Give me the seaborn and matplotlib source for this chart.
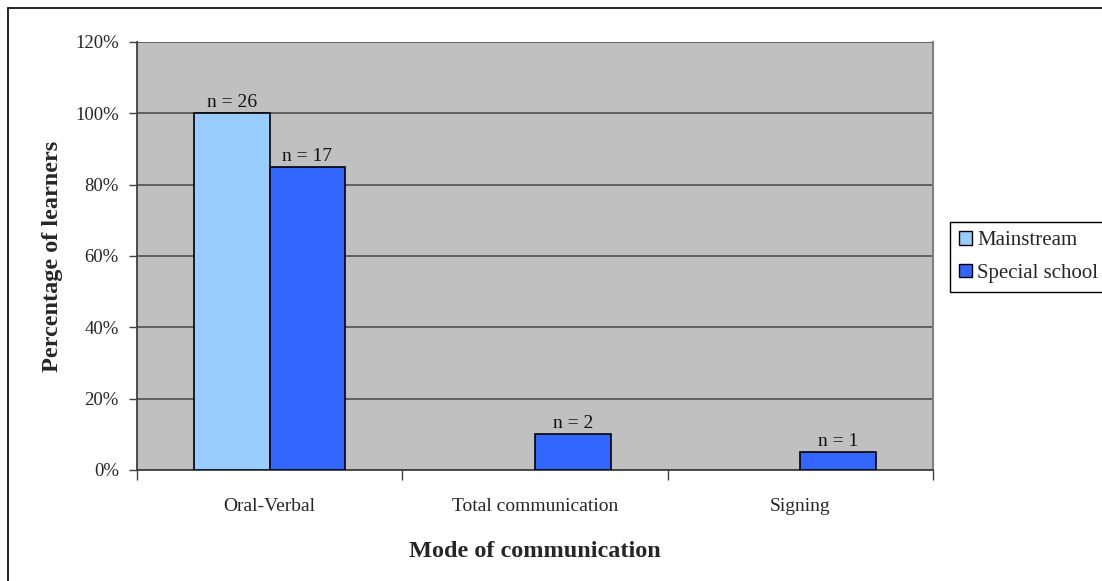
import matplotlib
matplotlib.use("Agg")
import matplotlib.pyplot as plt
from matplotlib.lines import Line2D
from matplotlib.ticker import FixedLocator, PercentFormatter
import seaborn as sns
import pandas as pd

# Survey results: share of learners per communication mode, by school type
modes = ["Oral-Verbal", "Total communication", "Signing"]
school_types = ["Mainstream", "Special school"]
mainstream_pct = [100, 0, 0]
special_pct = [85, 10, 5]
mainstream_n = [26, 0, 0]
special_n = [17, 2, 1]
y_ticks = [0, 20, 40, 60, 80, 100, 120]

colors = {"Mainstream": "#99CCFF", "Special school": "#3366FF"}

rows = []
for mode, pct, n in zip(modes, mainstream_pct, mainstream_n):
    rows.append({"mode": mode, "school": "Mainstream", "pct": pct, "n": n})
for mode, pct, n in zip(modes, special_pct, special_n):
    rows.append({"mode": mode, "school": "Special school", "pct": pct, "n": n})
df = pd.DataFrame(rows)
plot_df = df[df["n"] > 0]  # empty groups are not drawn

sns.set_style("white")
plt.rcParams["font.family"] = ["Liberation Serif", "DejaVu Serif"]

fig = plt.figure(figsize=(11.02, 5.81), dpi=100)
ax = fig.add_axes([137 / 1102, 1 - 470 / 581, (933 - 137) / 1102, (470 - 42) / 581])
ax.set_facecolor("#C0C0C0")

sns.barplot(data=plot_df, x="mode", y="pct", hue="school", order=modes,
            hue_order=school_types, palette=colors, width=0.57,
            edgecolor="black", linewidth=1.2, saturation=1, ax=ax,
            legend=False, zorder=3)

# value labels with group sizes
for container, school in zip(ax.containers, school_types):
    sub = plot_df[plot_df["school"] == school]
    ax.bar_label(container, labels=[f"n = {v}" for v in sub["n"]],
                 padding=1.5, fontsize=14, color="#111111")

ax.set_xlim(-0.5, len(modes) - 0.5)
ax.set_ylim(0, 120)
ax.yaxis.set_major_locator(FixedLocator(y_ticks))
ax.yaxis.set_major_formatter(PercentFormatter(decimals=0))
ax.grid(axis="y", color="#505050", linewidth=1.2, zorder=0)
ax.set_axisbelow(True)

# category boundary ticks, labels at centres
ax.set_xticks([i - 0.5 for i in range(len(modes) + 1)])
ax.set_xticklabels([])
ax.set_xticks(range(len(modes)), minor=True)
ax.set_xticklabels(modes, minor=True, fontsize=14)
ax.tick_params(axis="x", which="major", length=7, width=1, color="#404040",
               direction="out", bottom=True)
ax.tick_params(axis="x", which="minor", length=0, pad=20)
ax.tick_params(axis="y", length=6, width=1, color="#404040", direction="out",
               left=True, labelsize=13.5, pad=7)

for side in ["left", "bottom"]:
    ax.spines[side].set_color("#404040")
    ax.spines[side].set_linewidth(1.3)
ax.spines["right"].set_color("#808080")
ax.spines["right"].set_linewidth(1.5)
ax.spines["top"].set_visible(False)

ax.set_xlabel("Mode of communication", fontsize=17.5, fontweight="bold", labelpad=19)
ax.set_ylabel("Percentage of learners", fontsize=17.5, fontweight="bold", labelpad=9)

handles = [plt.Rectangle((0, 0), 1, 1, facecolor=colors[s], edgecolor="black",
                         linewidth=1) for s in school_types]
leg = fig.legend(handles, school_types, loc="upper left",
                 bbox_to_anchor=(950 / 1102, 1 - 222 / 581), fontsize=15,
                 frameon=True, fancybox=False, edgecolor="black",
                 framealpha=1, handlelength=0.6, handleheight=0.6,
                 handletextpad=0.25, borderpad=0.45, labelspacing=0.65,
                 borderaxespad=0)
leg.get_frame().set_linewidth(1)

# chart area border
fig.add_artist(Line2D([8 / 1102, 1.0], [1 - 8 / 581] * 2, color="black",
                      linewidth=1.2, transform=fig.transFigure))
fig.add_artist(Line2D([8 / 1102] * 2, [0, 1 - 8 / 581], color="black",
                      linewidth=1.2, transform=fig.transFigure))

fig.savefig("out.png", dpi=100)
